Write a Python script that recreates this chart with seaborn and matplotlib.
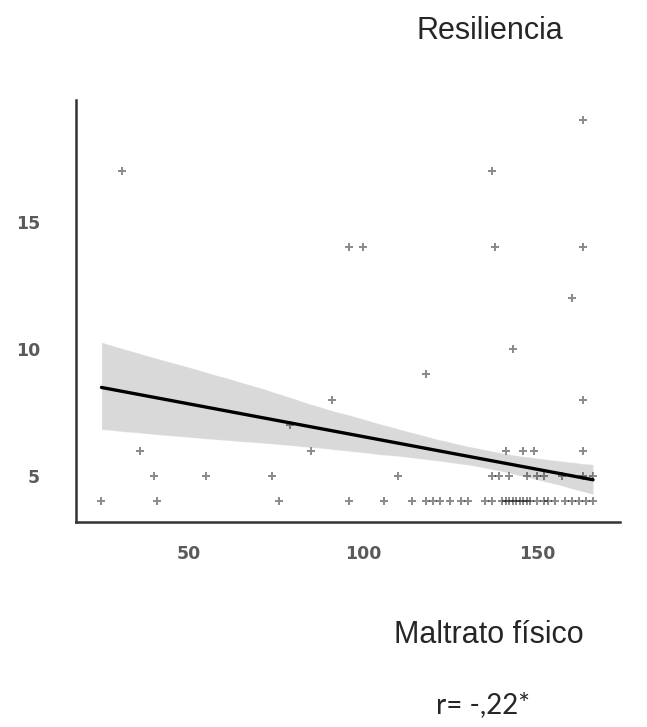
import pandas as pd
import matplotlib
matplotlib.use("Agg")
import matplotlib.pyplot as plt
import seaborn as sns

# Maltrato físico values for each Resiliencia level (read off the picture;
# repeated values = points stacked on the same spot)
x_r19 = [163]
x_r17 = [31, 31, 137]
x_r14 = [96, 96, 100, 100, 138, 138, 163]
x_r12 = [160]
x_r10 = [143]
x_r9 = [118]
x_r8 = [91, 163]
x_r7 = [79]
x_r6 = [36, 85, 141, 141, 146, 149, 163]
x_r5 = [40, 55, 74, 110, 137, 139, 142, 142, 147, 147, 150, 152, 157, 163, 166]
x_r4 = [25, 41, 76, 96, 106, 106, 106, 114, 118, 118, 118, 120, 120, 122, 122,
        125, 125, 128, 130, 135, 137, 140, 140, 141, 141, 141, 142, 142, 142,
        142, 143, 143, 143, 143, 144, 144, 144, 145, 145, 145, 145, 146, 146,
        146, 147, 147, 147, 147, 148, 150, 152, 152, 153, 153, 153, 155, 155,
        158, 158, 160, 160, 162, 164, 166]

groups = {19: x_r19, 17: x_r17, 14: x_r14, 12: x_r12, 10: x_r10, 9: x_r9,
          8: x_r8, 7: x_r7, 6: x_r6, 5: x_r5, 4: x_r4}

rows = [(x, y) for y, xs in groups.items() for x in xs]
df = pd.DataFrame(rows, columns=["maltrato", "resiliencia"])

sns.set_style("white")
plt.rcParams["font.family"] = ["Liberation Sans", "DejaVu Sans"]

fig = plt.figure(figsize=(6.47, 7.27), dpi=100)
ax = fig.add_axes([0.1175, 0.2824, 0.84, 0.58])

# points (each spot drawn once) and the fitted line with its band
sns.scatterplot(data=df.drop_duplicates(), x="maltrato", y="resiliencia",
                ax=ax, color="black", alpha=0.45, marker="P", s=34,
                linewidth=0)
sns.regplot(data=df, x="maltrato", y="resiliencia", ax=ax, color="black",
            scatter=False, ci=70, n_boot=1000, seed=3,
            line_kws={"linewidth": 2.4})

ax.set_xlim(17.7, 173.6)
ax.set_ylim(3.2, 19.8)
ax.set_xticks([50, 100, 150])
ax.set_yticks([5, 10, 15])
ax.set_xlabel("")
ax.set_ylabel("")

for side in ["top", "right"]:
    ax.spines[side].set_visible(False)
for side in ["left", "bottom"]:
    ax.spines[side].set_color("#333333")
    ax.spines[side].set_linewidth(1.8)

ax.tick_params(axis="both", length=4, width=1.5, color="#333333",
               labelcolor="#5a5a5a", labelsize=12.5)
ax.tick_params(axis="y", pad=22)
ax.tick_params(axis="x", pad=13)
for lab in ax.get_xticklabels() + ax.get_yticklabels():
    lab.set_family("DejaVu Sans")
    lab.set_fontweight("bold")

fig.text(0.757, 0.957, "Resiliencia", ha="center", va="center", fontsize=22)
fig.text(0.755, 0.127, "Maltrato físico", ha="center", va="center", fontsize=22)
fig.text(0.747, 0.030, "r= -,22*", ha="center", va="center", fontsize=20,
         family=["Lato", "DejaVu Sans"])

fig.savefig("out.png", dpi=100)
